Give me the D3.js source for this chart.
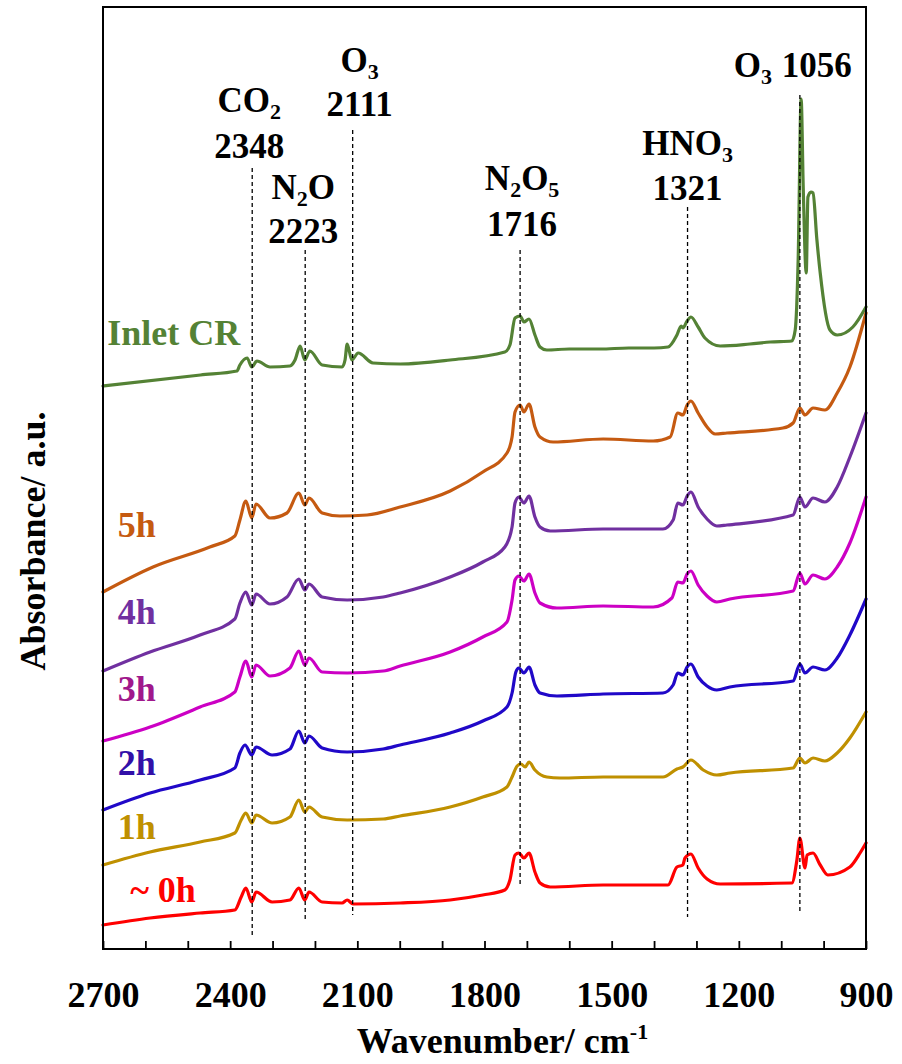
<!DOCTYPE html>
<html>
<head>
<meta charset="utf-8">
<script src="https://cdn.jsdelivr.net/npm/d3@7"></script>
<style>
  body { margin: 0; background: #fff; }
  svg { display: block; }
</style>
</head>
<body>
<svg id="chart" width="902" height="1064"></svg>
<script>
// FTIR spectra: [wavenumber (cm-1), absorbance (a.u., stacked offsets included)]
const inletCR = [
  [2700,5.63],[2470,5.74],[2384,5.78],[2377,5.84],[2360,5.91],[2349,5.82],[2337,5.88],[2306,5.82],
  [2259,5.83],[2247,5.89],[2235,6.03],[2224,5.89],[2212,5.98],[2183,5.84],[2136,5.82],[2129,5.89],
  [2124,6.05],[2113,5.89],[2098,5.96],[2063,5.86],[1999,5.85],[1881,5.89],[1752,5.97],[1740,6.04],
  [1728,6.31],[1716,6.33],[1707,6.27],[1695,6.30],[1681,6.14],[1669,6.02],[1653,5.99],[1600,6.00],
  [1527,6.00],[1460,6.01],[1400,6.01],[1367,6.02],[1346,6.14],[1336,6.23],[1332,6.21],[1322,6.28],
  [1313,6.32],[1296,6.22],[1280,6.11],[1244,6.03],[1174,6.05],[1126,6.07],[1075,6.08],[1067,6.19],
  [1060,6.9],[1053,8.50],[1048,7.6],[1041,6.76],[1037,7.52],[1030,7.57],[1025,7.56],[1016,7.1],
  [1008,6.76],[985,6.19],[968,6.14],[931,6.22],[900,6.42]
];
const h5 = [
  [2700,3.57],[2582,3.82],[2448,4.02],[2389,4.13],[2377,4.29],[2363,4.48],[2349,4.31],[2339,4.45],
  [2306,4.31],[2266,4.36],[2238,4.56],[2224,4.44],[2214,4.51],[2183,4.36],[2141,4.33],[2077,4.34],
  [1999,4.42],[1881,4.58],[1804,4.77],[1747,4.96],[1735,5.12],[1728,5.37],[1716,5.44],[1707,5.37],
  [1695,5.45],[1681,5.22],[1669,5.12],[1638,5.07],[1520,5.10],[1402,5.08],[1362,5.12],[1344,5.36],
  [1332,5.34],[1322,5.44],[1313,5.48],[1296,5.36],[1275,5.22],[1256,5.15],[1228,5.16],[1096,5.21],
  [1072,5.26],[1056,5.41],[1044,5.34],[1025,5.41],[997,5.39],[968,5.56],[938,5.82],[900,6.36]
];
const h4 = [
  [2700,2.78],[2589,2.97],[2471,3.14],[2389,3.30],[2377,3.46],[2363,3.57],[2349,3.44],[2339,3.55],
  [2306,3.45],[2266,3.52],[2238,3.70],[2224,3.59],[2214,3.65],[2183,3.52],[2124,3.49],[2039,3.52],
  [1999,3.56],[1881,3.72],[1804,3.87],[1752,4.02],[1735,4.22],[1728,4.46],[1719,4.52],[1707,4.46],
  [1695,4.53],[1681,4.32],[1669,4.22],[1645,4.18],[1520,4.20],[1379,4.20],[1355,4.29],[1344,4.46],
  [1332,4.44],[1322,4.53],[1313,4.57],[1296,4.42],[1275,4.30],[1252,4.23],[1228,4.24],[1072,4.34],
  [1056,4.52],[1044,4.42],[1025,4.51],[997,4.47],[968,4.62],[938,4.92],[900,5.36]
];
const h3 = [
  [2700,2.08],[2589,2.22],[2471,2.42],[2389,2.57],[2377,2.72],[2363,2.88],[2349,2.72],[2339,2.84],
  [2306,2.73],[2259,2.81],[2238,2.98],[2224,2.84],[2214,2.91],[2183,2.77],[2124,2.76],[2039,2.78],
  [1999,2.83],[1881,2.97],[1804,3.12],[1747,3.27],[1735,3.49],[1728,3.69],[1719,3.73],[1707,3.68],
  [1695,3.75],[1681,3.56],[1669,3.46],[1629,3.41],[1520,3.43],[1402,3.42],[1358,3.51],[1344,3.67],
  [1332,3.66],[1322,3.75],[1313,3.78],[1296,3.64],[1275,3.53],[1252,3.47],[1221,3.50],[1072,3.58],
  [1056,3.76],[1044,3.65],[1025,3.74],[997,3.70],[968,3.82],[938,4.06],[900,4.52]
];
const h2 = [
  [2700,1.39],[2589,1.56],[2471,1.69],[2389,1.81],[2377,1.96],[2365,2.04],[2349,1.94],[2339,2.02],
  [2301,1.94],[2259,2.00],[2238,2.18],[2224,2.06],[2214,2.13],[2183,2.01],[2124,1.97],[2039,2.00],
  [1999,2.04],[1881,2.16],[1804,2.28],[1747,2.42],[1735,2.56],[1726,2.77],[1719,2.81],[1707,2.76],
  [1695,2.82],[1681,2.64],[1669,2.56],[1629,2.53],[1520,2.55],[1379,2.56],[1355,2.64],[1344,2.76],
  [1332,2.74],[1322,2.82],[1313,2.85],[1296,2.72],[1275,2.63],[1252,2.59],[1221,2.62],[1072,2.68],
  [1056,2.85],[1044,2.76],[1025,2.82],[997,2.79],[968,2.91],[938,3.14],[900,3.50]
];
const h1 = [
  [2700,0.84],[2589,0.97],[2471,1.07],[2389,1.16],[2374,1.29],[2363,1.36],[2349,1.26],[2339,1.34],
  [2301,1.26],[2259,1.32],[2238,1.49],[2224,1.37],[2214,1.42],[2183,1.32],[2124,1.29],[2039,1.30],
  [1999,1.33],[1881,1.42],[1804,1.52],[1747,1.62],[1735,1.72],[1723,1.83],[1714,1.85],[1704,1.82],
  [1695,1.87],[1681,1.79],[1653,1.72],[1622,1.71],[1520,1.72],[1379,1.72],[1346,1.80],[1332,1.82],
  [1313,1.89],[1284,1.79],[1252,1.74],[1221,1.76],[1072,1.81],[1056,1.91],[1044,1.86],[1025,1.91],
  [997,1.88],[968,1.96],[938,2.11],[900,2.37]
];
const h0 = [
  [2700,0.24],[2589,0.31],[2471,0.36],[2389,0.39],[2374,0.52],[2363,0.61],[2349,0.47],[2339,0.57],
  [2301,0.47],[2259,0.49],[2238,0.61],[2224,0.49],[2214,0.57],[2183,0.47],[2136,0.46],[2124,0.49],
  [2110,0.45],[1999,0.46],[1881,0.49],[1804,0.54],[1752,0.59],[1740,0.69],[1728,0.94],[1719,0.96],
  [1707,0.91],[1695,0.96],[1681,0.77],[1669,0.66],[1645,0.62],[1520,0.64],[1367,0.64],[1346,0.82],
  [1332,0.84],[1327,0.91],[1313,0.95],[1296,0.81],[1275,0.70],[1244,0.65],[1075,0.66],[1063,0.89],
  [1056,1.11],[1044,0.81],[1039,0.94],[1025,0.96],[1008,0.84],[990,0.74],[938,0.82],[914,0.96],
  [900,1.06]
];

const seriesNames = ["Inlet CR", "5h", "4h", "3h", "2h", "1h", "~ 0h"];
const seriesData = [inletCR, h5, h4, h3, h2, h1, h0];
// label anchor for each spectrum: [wavenumber, absorbance]
const seriesLabelAt = [[2690,6.04],[2665,4.12],[2665,3.25],[2665,2.48],[2665,1.74],[2665,1.10],[2636,0.47]];

// assigned bands
const bandWaves = [2348, 2223, 2111, 1716, 1321, 1056];
const bandSpecies = ["CO2", "N2O", "O3", "N2O5", "HNO3", "O3"];
const bandLabels = ["2348", "2223", "2111", "1716", "1321", "1056"];
// vertical extent of each marker line, in absorbance units [top, bottom]
const bandSpan = [[7.81,0.14],[6.99,0.29],[8.19,0.34],[6.99,0.62],[7.42,0.32],[8.54,0.36]];

const xTicks = [2700, 2400, 2100, 1800, 1500, 1200, 900];

// ---- styles and layout ----
const lineColors = ["#548235", "#C55A11", "#7030A0", "#CC00C4", "#2008C8", "#BF9000", "#FF0000"];
const labelColors = ["#548235", "#C55A11", "#7030A0", "#A0188C", "#3210A8", "#BF9000", "#FF0000"];
// [dx of species, species baseline, dx of number, number baseline]
const bandLabelLayout = [
  [-3,112,-3,158],[-2,199,-2,243],[7,72,7,116],[2,190,2,236],[0,155,0,200],[-47,77,17,77]
];

const FONT = "'Liberation Serif','Times New Roman',Times,serif";
const plot = { left: 103, right: 866, top: 7, bottom: 949 };

const svg = d3.select("#chart");

const x = d3.scaleLinear().domain([2700, 900]).range([plot.left, plot.right]);
const y = d3.scaleLinear().domain([0, 9.42]).range([plot.bottom, plot.top]);

// bottom axis: a tick every 100 cm-1, labels every 300 cm-1
const axis = d3.axisBottom(x)
  .tickValues(d3.range(2700, 899, -100))
  .tickSize(-8)
  .tickFormat(d => d);

const gAxis = svg.append("g")
  .attr("transform", `translate(0,${plot.bottom})`)
  .call(axis);
gAxis.select(".domain").remove();
gAxis.selectAll(".tick line").attr("stroke", "#000").attr("stroke-width", 1.8);
gAxis.selectAll(".tick text").filter(d => !xTicks.includes(d)).remove();
gAxis.selectAll(".tick text")
  .attr("y", 58).attr("dy", 0)
  .attr("fill", "#000")
  .style("font-family", FONT)
  .style("font-weight", "bold")
  .style("font-size", "36px");

// spectra
const line = d3.line()
  .x(d => x(d[0]))
  .y(d => y(d[1]))
  .curve(d3.curveMonotoneX);

svg.append("g").selectAll("path")
  .data(seriesData)
  .join("path")
  .attr("d", line)
  .attr("fill", "none")
  .attr("stroke", (d, i) => lineColors[i])
  .attr("stroke-width", 3.2)
  .attr("stroke-linejoin", "round")
  .attr("stroke-linecap", "round");

// band marker lines
svg.append("g").selectAll("line")
  .data(bandWaves)
  .join("line")
  .attr("x1", d => x(d)).attr("x2", d => x(d))
  .attr("y1", (d, i) => y(bandSpan[i][0]))
  .attr("y2", (d, i) => y(bandSpan[i][1]))
  .attr("stroke", "#000")
  .attr("stroke-width", 1.3)
  .attr("stroke-dasharray", "4,3");

// chemical formula with subscripted digits
function formula(sel, text) {
  const parts = text.match(/[A-Za-z]+|\d+/g);
  let shift = 0;
  parts.forEach(p => {
    if (/\d/.test(p)) {
      sel.append("tspan").attr("dy", 7 - shift).style("font-size", "22px").text(p);
      shift = 7;
    } else {
      sel.append("tspan").attr("dy", -shift).text(p);
      shift = 0;
    }
  });
}

const gBands = svg.append("g")
  .style("font-family", FONT)
  .style("font-weight", "bold")
  .style("font-size", "35px")
  .attr("fill", "#000")
  .attr("text-anchor", "middle");

bandWaves.forEach((w, i) => {
  const [dx1, y1, dx2, y2] = bandLabelLayout[i];
  const t = gBands.append("text").attr("x", x(w) + dx1).attr("y", y1);
  formula(t, bandSpecies[i]);
  gBands.append("text").attr("x", x(w) + dx2).attr("y", y2).text(bandLabels[i]);
});

// spectrum labels
svg.append("g").selectAll("text")
  .data(seriesNames)
  .join("text")
  .attr("x", (d, i) => x(seriesLabelAt[i][0]))
  .attr("y", (d, i) => y(seriesLabelAt[i][1]))
  .attr("fill", (d, i) => labelColors[i])
  .style("font-family", FONT)
  .style("font-weight", "bold")
  .style("font-size", "36px")
  .text(d => d);

// plot frame
svg.append("rect")
  .attr("x", plot.left).attr("y", plot.top)
  .attr("width", plot.right - plot.left)
  .attr("height", plot.bottom - plot.top)
  .attr("fill", "none")
  .attr("stroke", "#000")
  .attr("stroke-width", 2);

// axis titles
const xt = svg.append("text")
  .attr("x", (plot.left + plot.right) / 2 + 18)
  .attr("y", 1053)
  .attr("text-anchor", "middle")
  .style("font-family", FONT)
  .style("font-weight", "bold")
  .style("font-size", "36px");
xt.append("tspan").text("Wavenumber/ cm");
xt.append("tspan").attr("dy", -14).style("font-size", "22px").text("-1");

svg.append("text")
  .attr("transform", "translate(45,541) rotate(-90)")
  .attr("text-anchor", "middle")
  .style("font-family", FONT)
  .style("font-weight", "bold")
  .style("font-size", "36px")
  .text("Absorbance/ a.u.");
</script>
</body>
</html>
